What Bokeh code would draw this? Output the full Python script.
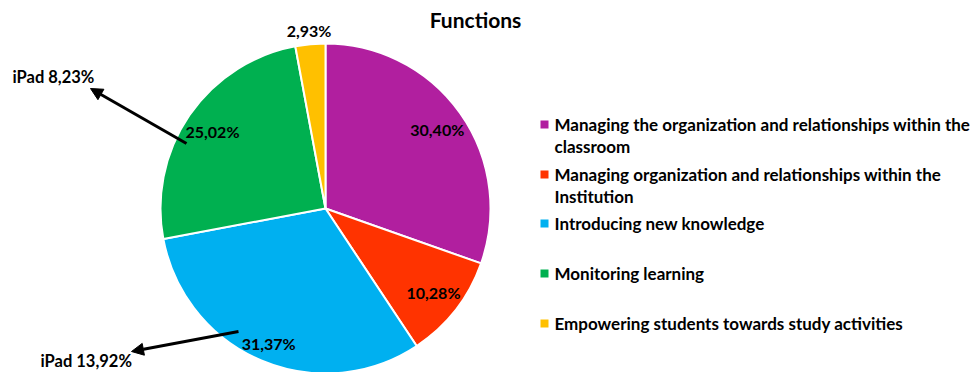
import math
from bokeh.plotting import figure
from bokeh.models import ColumnDataSource, Arrow, NormalHead, Label
from bokeh.core.properties import value
from bokeh.embed import file_html
from bokeh.resources import INLINE

# ---- data ----
categories = [
    "Managing the organization and relationships within the\nclassroom",
    "Managing organization and relationships within the\nInstitution",
    "Introducing new knowledge",
    "Monitoring learning",
    "Empowering students towards study activities",
]
shares = [30.40, 10.28, 31.37, 25.02, 2.93]
share_labels = ["30,40%", "10,28%", "31,37%", "25,02%", "2,93%"]
colors = ["#B11F9F", "#FF3300", "#00B0F0", "#00B050", "#FFC000"]
ipad_labels = ["iPad 8,23%", "iPad 13,92%"]
title_text = "Functions"

FONT = "Lato"
W, H = 974, 372

p = figure(width=W, height=H, x_range=(0, W), y_range=(0, H),
           output_backend="svg", toolbar_location=None,
           x_axis_type=None, y_axis_type=None, min_border=0)
p.outline_line_color = None
p.grid.visible = False

cx, cy, R = 325, 164, 165

# wedges
total = sum(shares)
starts, ends, mids = [], [], []
cum = 0.0
for v in shares:
    a0 = math.pi / 2 - 2 * math.pi * cum / total
    cum += v
    a1 = math.pi / 2 - 2 * math.pi * cum / total
    starts.append(a0)
    ends.append(a1)
    mids.append((a0 + a1) / 2)

src = ColumnDataSource(dict(start=starts, end=ends, color=colors))
p.wedge(x=cx, y=cy, radius=R, start_angle="start", end_angle="end",
        direction="clock", fill_color="color", line_color="white",
        line_width=2, source=src)

# data labels
rfac = [0.83, 0.83, 0.885, 0.83, 1.085]
lx = [cx + f * R * math.cos(m) for f, m in zip(rfac, mids)]
ly = [cy + f * R * math.sin(m) for f, m in zip(rfac, mids)]
p.text(x=lx, y=ly, text=share_labels, text_align="center",
       text_baseline="middle", text_font=value(FONT),
       text_font_style="bold", text_font_size="16px", text_color="black")

# title
p.add_layout(Label(x=475, y=353, text=title_text, text_align="center",
                   text_baseline="middle", text_font=FONT,
                   text_font_style="bold", text_font_size="21px",
                   text_color="black"))

# arrows and iPad labels
head = dict(size=12, fill_color="black", line_color="black")
p.add_layout(Arrow(x_start=186, y_start=229, x_end=90, y_end=284,
                   line_width=3, line_color="black", end=NormalHead(**head)))
p.add_layout(Arrow(x_start=238, y_start=41, x_end=131, y_end=21,
                   line_width=3, line_color="black", end=NormalHead(**head)))
p.add_layout(Label(x=12, y=296, text=ipad_labels[0], text_align="left",
                   text_baseline="middle", text_font=FONT,
                   text_font_style="bold", text_font_size="16.5px",
                   text_color="black"))
p.add_layout(Label(x=40, y=12, text=ipad_labels[1], text_align="left",
                   text_baseline="middle", text_font=FONT,
                   text_font_style="bold", text_font_size="16.5px",
                   text_color="black"))

# legend (manual)
leg_y = [248, 198, 149, 99, 49]
sq_x = 544
tx = 554
p.scatter(x=[sq_x] * len(colors), y=leg_y, marker="square", size=8,
          fill_color=colors, line_color=None)
line_x, line_y, line_t = [], [], []
for yy, lab in zip(leg_y, categories):
    for k, part in enumerate(lab.split("\n")):
        line_x.append(tx)
        line_y.append(yy - 22 * k)
        line_t.append(part)
p.text(x=line_x, y=line_y, text=line_t, text_align="left",
       text_baseline="middle", text_font=value(FONT),
       text_font_style="bold", text_font_size="17px", text_color="black")

open("out.html", "w").write(file_html(p, INLINE))
